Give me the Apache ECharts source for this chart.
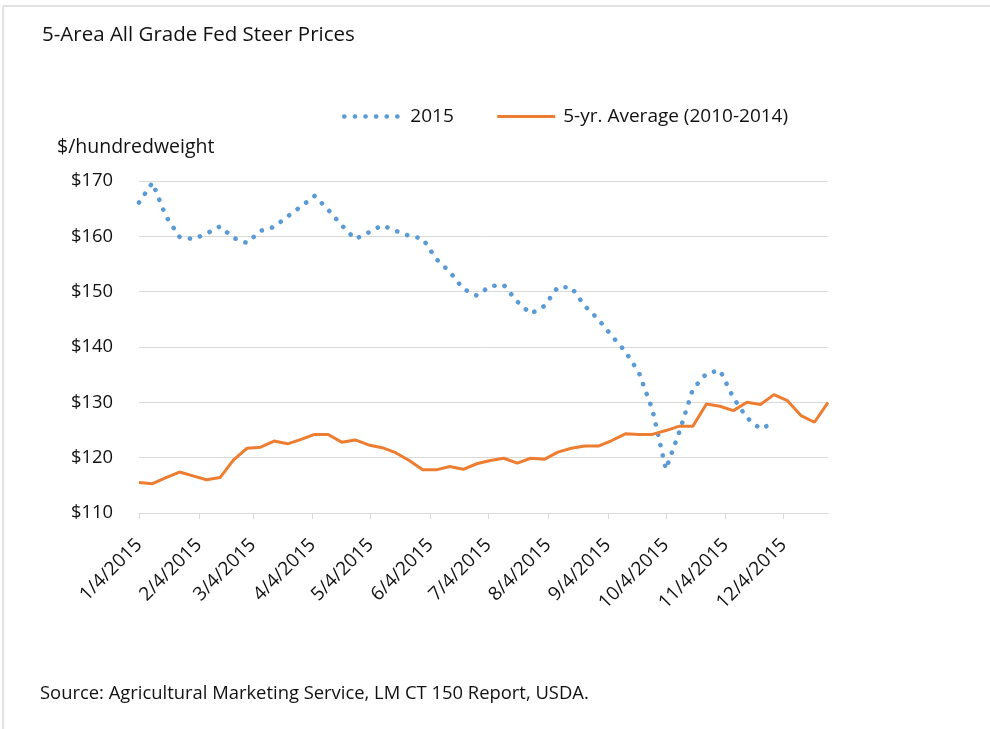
<!DOCTYPE html>
<html>
<head>
<meta charset="utf-8">
<script src="https://cdn.jsdelivr.net/npm/echarts@6/dist/echarts.min.js"></script>
<style>
html,body{margin:0;padding:0;background:#fff;}
#c{width:990px;height:729px;}
</style>
</head>
<body>
<div id="c"></div>
<script>
// Weekly observation dates (2015)
const weekDates = [
 '2015-01-04','2015-01-11','2015-01-18','2015-01-25',
 '2015-02-01','2015-02-08','2015-02-15','2015-02-22',
 '2015-03-01','2015-03-08','2015-03-15','2015-03-22','2015-03-29',
 '2015-04-05','2015-04-12','2015-04-19','2015-04-26',
 '2015-05-03','2015-05-10','2015-05-17','2015-05-24','2015-05-31',
 '2015-06-07','2015-06-14','2015-06-21','2015-06-28',
 '2015-07-05','2015-07-12','2015-07-19','2015-07-26',
 '2015-08-02','2015-08-09','2015-08-16','2015-08-23','2015-08-30',
 '2015-09-06','2015-09-13','2015-09-20','2015-09-27',
 '2015-10-04','2015-10-11','2015-10-18','2015-10-25',
 '2015-11-01','2015-11-08','2015-11-15','2015-11-22','2015-11-29',
 '2015-12-06','2015-12-13','2015-12-20','2015-12-27'
];
// 2015 prices ($/cwt)
const prices2015 = [
 166.1,169.7,163.6,159.9,159.5,160.5,161.8,159.7,158.8,161.0,
 161.7,163.6,165.4,167.3,164.8,162.0,159.5,160.7,162.0,161.0,
 160.1,159.6,155.9,153.6,150.5,149.3,151.0,151.2,148.2,146.0,
 147.4,150.8,150.8,147.4,145.0,142.0,139.2,135.4,128.7,117.9,
 124.7,132.4,135.2,135.8,130.8,127.2,125.2,126.3
];
// 5-yr average 2010-2014 ($/cwt)
const avg5yr = [
 115.5,115.3,116.4,117.4,116.7,116.0,116.4,119.6,121.7,121.9,
 123.0,122.5,123.3,124.2,124.2,122.8,123.2,122.3,121.8,120.9,
 119.5,117.8,117.8,118.4,117.9,118.9,119.5,119.9,119.0,119.9,
 119.7,121.0,121.7,122.1,122.1,123.1,124.3,124.2,124.2,124.9,
 125.7,125.7,129.7,129.3,128.5,130.0,129.6,131.4,130.3,127.6,
 126.4,130.0
];
// x-axis tick dates and labels
const tickDates = ['2015-01-04','2015-02-04','2015-03-04','2015-04-04','2015-05-04','2015-06-04',
 '2015-07-04','2015-08-04','2015-09-04','2015-10-04','2015-11-04','2015-12-04'];
const tickLabels = ['1/4/2015','2/4/2015','3/4/2015','4/4/2015','5/4/2015','6/4/2015',
 '7/4/2015','8/4/2015','9/4/2015','10/4/2015','11/4/2015','12/4/2015'];
const seriesNames = ['2015','5-yr. Average (2010-2014)'];

const FONT = '"Open Sans"';
const TXT = '#111';
const BLUE = '#5B9BD5', ORANGE = '#ED7D31';
const dotted = {color:BLUE,width:4.6,type:[0.1,10.5],cap:'round'};
const day0 = Date.UTC(2015,0,4);
function dayOf(s){const p=s.split('-');return (Date.UTC(+p[0],+p[1]-1,+p[2])-day0)/86400000;}
const tickDays = tickDates.map(dayOf);
const labelMap = {};
tickDays.forEach((d,i)=>labelMap[d]=tickLabels[i]);

const chart = echarts.init(document.getElementById('c'), null, {renderer:'canvas'});
chart.setOption({
  backgroundColor:'#fff',
  animation:false,
  textStyle:{fontFamily:FONT},
  grid:{left:139,right:162,top:181,bottom:216,containLabel:false},
  legend:{
    left:342, top:107, padding:0, itemWidth:58, itemHeight:14, itemGap:42,
    itemStyle:{opacity:0},
    textStyle:{fontFamily:FONT,fontSize:19,color:TXT,padding:[0,0,0,3]},
    data:[
      {name:seriesNames[0], lineStyle:dotted},
      {name:seriesNames[1], lineStyle:{color:ORANGE,width:3}}
    ]
  },
  xAxis:{
    type:'value', min:0, max:dayOf(weekDates[weekDates.length-1]),
    splitLine:{show:false},
    axisLine:{lineStyle:{color:'#D9D9D9',width:1}},
    axisTick:{show:true,length:6,lineStyle:{color:'#D9D9D9'},customValues:tickDays},
    axisLabel:{rotate:45,fontFamily:FONT,fontSize:19,color:TXT,margin:29,
      customValues:tickDays, formatter:v=>labelMap[v]||''}
  },
  yAxis:{
    type:'value', min:110, max:170, interval:10,
    axisLine:{show:false}, axisTick:{show:false},
    splitLine:{lineStyle:{color:'#D9D9D9',width:1}},
    axisLabel:{fontFamily:FONT,fontSize:18.4,color:TXT,margin:26,formatter:v=>'$'+v}
  },
  series:[
    {name:seriesNames[0],type:'line',showSymbol:false,symbol:'none',
     data:prices2015.map((v,i)=>[dayOf(weekDates[i]),v]),
     itemStyle:{color:BLUE},
     lineStyle:dotted},
    {name:seriesNames[1],type:'line',showSymbol:false,symbol:'none',
     data:avg5yr.map((v,i)=>[dayOf(weekDates[i]),v]),
     itemStyle:{color:ORANGE},
     lineStyle:{color:ORANGE,width:3}}
  ],
  graphic:[
    {type:'line',shape:{x1:3,y1:6,x2:990,y2:6},style:{stroke:'#D9D9D9',lineWidth:1.5}},
    {type:'line',shape:{x1:3,y1:6,x2:3,y2:729},style:{stroke:'#D9D9D9',lineWidth:1.5}},
    {type:'text',style:{x:42,y:35,verticalAlign:'middle',text:'5-Area All Grade Fed Steer Prices',font:'20.5px '+FONT,fill:TXT}},
    {type:'text',style:{x:57,y:147,verticalAlign:'middle',text:'$/hundredweight',font:'19.5px '+FONT,fill:TXT}},
    {type:'text',style:{x:40,y:694,verticalAlign:'middle',text:'Source: Agricultural Marketing Service, LM CT 150 Report, USDA.',font:'18.4px '+FONT,fill:TXT}}
  ]
});
</script>
</body>
</html>
